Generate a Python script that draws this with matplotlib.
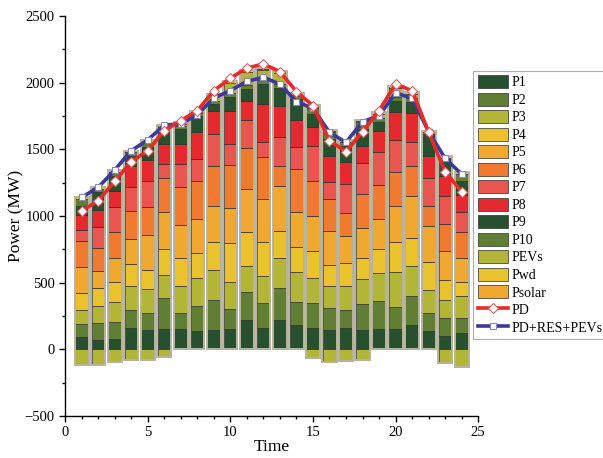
import numpy as np
import matplotlib
matplotlib.use("Agg")
import matplotlib.pyplot as plt
from matplotlib.ticker import MultipleLocator

plt.rcParams['font.family'] = ['Liberation Serif', 'DejaVu Serif']

time = np.arange(1, 25)

P1 = [88, 70, 75, 158, 143, 155, 150, 138, 145, 155, 220, 163, 220, 180, 163, 145, 163, 143, 150, 150, 180, 138, 100, 120]
P2 = [105, 125, 133, 135, 127, 226, 125, 183, 225, 150, 210, 187, 243, 175, 182, 161, 132, 195, 213, 170, 221, 137, 138, 118]
P3 = [102, 130, 147, 183, 181, 175, 201, 217, 226, 203, 196, 196, 225, 226, 193, 170, 176, 188, 208, 261, 220, 171, 132, 163]
P4 = [125, 131, 151, 162, 145, 195, 212, 183, 205, 288, 255, 260, 201, 183, 200, 155, 175, 162, 180, 225, 210, 210, 151, 105]
P5 = [196, 130, 182, 188, 260, 275, 243, 255, 271, 265, 321, 321, 333, 262, 258, 258, 205, 218, 225, 265, 316, 270, 217, 175]
P6 = [198, 170, 193, 213, 208, 256, 283, 288, 305, 321, 308, 313, 150, 326, 268, 238, 170, 258, 256, 261, 225, 151, 201, 195]
P7 = [80, 163, 183, 175, 195, 107, 175, 163, 238, 158, 212, 117, 218, 163, 258, 130, 218, 233, 245, 238, 185, 205, 208, 156]
P8 = [112, 125, 125, 163, 160, 151, 151, 200, 175, 250, 143, 283, 232, 205, 143, 195, 163, 130, 163, 207, 215, 165, 155, 125]
P9 = [70, 133, 113, 73, 101, 100, 112, 125, 50, 100, 88, 150, 136, 158, 100, 125, 125, 125, 62, 88, 85, 168, 125, 107]
P10 = [50, 25, 30, 28, 35, 27, 25, 20, 25, 30, 30, 30, 30, 20, 45, 50, 30, 50, 30, 30, 30, 15, 10, 50]
PEVs = [-115, -115, -93, -80, -78, -55, 15, 10, 35, 80, 100, 73, 87, 12, -63, -95, -88, -80, 35, 68, 31, 0, -105, -135]
Pwd = [13, 12, 12, 12, 15, 15, 10, 5, 10, 10, 10, 10, 10, 10, 10, 12, 10, 12, 10, 10, 10, 10, 10, 13]
Psolar = [0, 0, 0, 0, 0, 0, 3, 3, 5, 5, 5, 5, 5, 5, 15, 8, 5, 6, 0, 0, 0, 0, 0, 0]

PD = [1039, 1114, 1259, 1407, 1490, 1640, 1715, 1790, 1940, 2033, 2110, 2140, 2083, 1933, 1828, 1565, 1482, 1632, 1790, 1990, 1940, 1630, 1332, 1182]
PD_RES_PEV = [1139, 1214, 1344, 1490, 1570, 1682, 1690, 1760, 1885, 1940, 2010, 2040, 1990, 1857, 1808, 1627, 1552, 1707, 1752, 1923, 1883, 1632, 1432, 1314]

names = ['P1', 'P2', 'P3', 'P4', 'P5', 'P6', 'P7', 'P8', 'P9', 'P10', 'PEVs', 'Pwd', 'Psolar']
series = [P1, P2, P3, P4, P5, P6, P7, P8, P9, P10, PEVs, Pwd, Psolar]
colors = ['#27502f', '#617e35', '#b2b535', '#e9c22e', '#f0a830', '#ef7a30',
          '#e9564f', '#e42a2f', '#27502f', '#617e35', '#b2b535', '#e9c22e', '#f0a830']

fig = plt.figure(figsize=(6.03, 4.58), dpi=100)
ax = fig.add_axes([0.108, 0.092, 0.685, 0.873])

width = 0.8
bottom = np.zeros(len(time))
handles = []
for name, vals, c in zip(names, series, colors):
    v = np.array(vals, dtype=float)
    pos = np.clip(v, 0, None)
    h = ax.bar(time, pos, width, bottom=bottom, color=c, edgecolor='#2e2e2e',
               linewidth=0.5, label=name, zorder=2)
    bottom += pos
    neg = np.clip(v, None, 0)
    if np.any(neg < 0):
        ax.bar(time, neg, width, bottom=0, color=c, edgecolor='#2e2e2e',
               linewidth=0.5, zorder=2)
    handles.append(h)

negtot = np.clip(np.array(PEVs, dtype=float), None, 0)
ax.bar(time, bottom - negtot, width + 0.06, bottom=negtot, fill=False,
       edgecolor='#b9b49e', linewidth=1.4, zorder=3)

l1, = ax.plot(time, PD, color='#e62a28', lw=2.6, marker='D', ms=5.5,
              mfc='white', mec='#e06060', mew=0.8, label='PD', zorder=5)
l2, = ax.plot(time, PD_RES_PEV, color='#3b3a9c', lw=2.6, marker='s', ms=5,
              mfc='white', mec='#8888bb', mew=0.8, label='PD+RES+PEVs', zorder=4)
handles += [l1, l2]

ax.set_xlim(0, 25)
ax.set_ylim(-500, 2500)
ax.xaxis.set_major_locator(MultipleLocator(5))
ax.xaxis.set_minor_locator(MultipleLocator(1))
ax.yaxis.set_major_locator(MultipleLocator(500))
ax.yaxis.set_minor_locator(MultipleLocator(250))
ax.tick_params(which='both', direction='out', labelsize=10.5, width=1)
ax.tick_params(which='major', length=4)
ax.tick_params(which='minor', length=2.5)
for s in ['top', 'right']:
    ax.spines[s].set_visible(False)
for s in ['left', 'bottom']:
    ax.spines[s].set_linewidth(1)
ax.set_xlabel('Time', fontsize=12.5, labelpad=0)
ax.set_ylabel('Power (MW)', fontsize=12.5, labelpad=0)

leg = fig.legend(handles=handles, labels=names + ['PD', 'PD+RES+PEVs'],
                 loc='upper left', bbox_to_anchor=(0.785, 0.845),
                 fontsize=10, frameon=True, fancybox=False, edgecolor='#999999',
                 handlelength=2.2, handleheight=1.05, labelspacing=0.24,
                 handletextpad=0.25, borderpad=0.3, borderaxespad=0)
leg.get_frame().set_linewidth(0.8)

fig.savefig('out.png', dpi=100)
